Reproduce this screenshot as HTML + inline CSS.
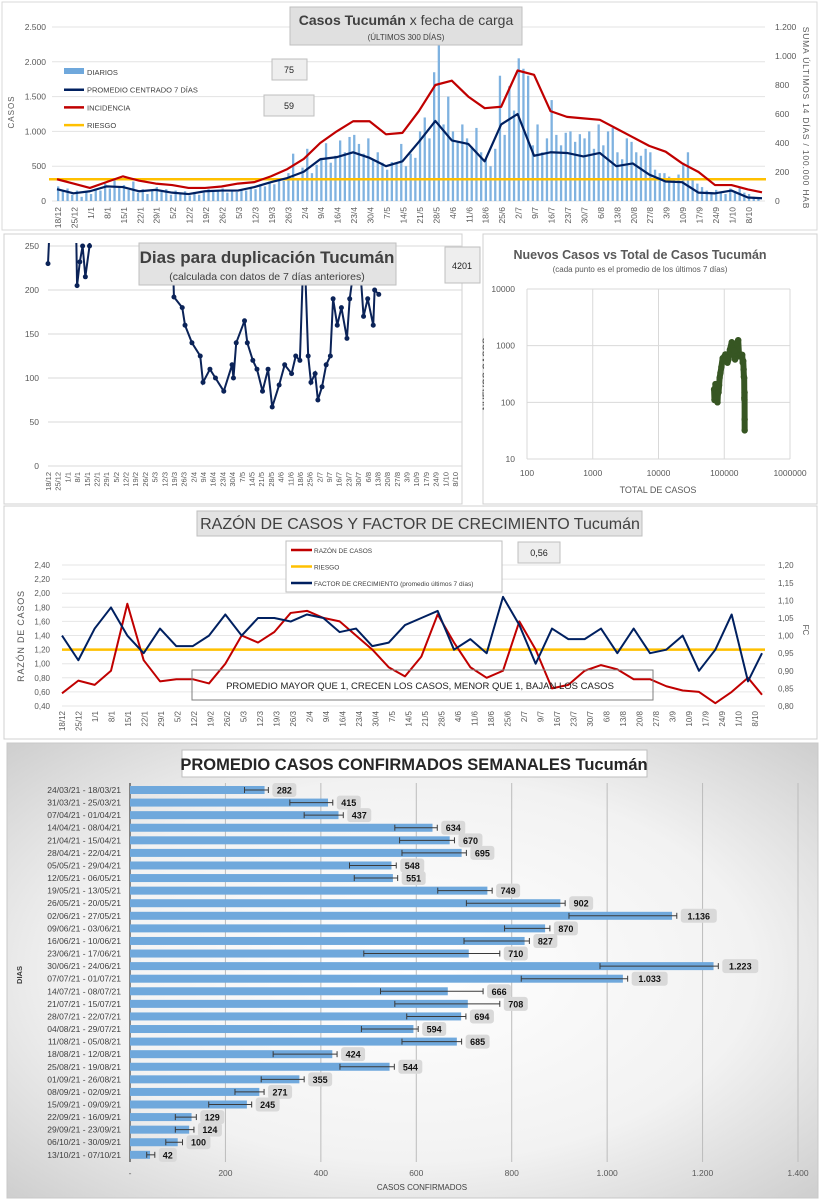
<!DOCTYPE html>
<html><head><meta charset="utf-8">
<style>
html,body{margin:0;padding:0;background:#fff;}
svg{display:block;font-family:"Liberation Sans",sans-serif;}
</style></head>
<body>
<svg id="root" width="820" height="1200" viewBox="0 0 820 1200">
<defs>
<radialGradient id="bg4" cx="50%" cy="50%" r="70%">
<stop offset="0%" stop-color="#ffffff"/><stop offset="60%" stop-color="#f2f2f2"/><stop offset="100%" stop-color="#cfcfcf"/>
</radialGradient>
<clipPath id="clip1"><rect x="45" y="20" width="730" height="185"/></clipPath>
<clipPath id="clip2"><rect x="40" y="243" width="430" height="226"/></clipPath>
</defs>
<rect x="0" y="0" width="820" height="1200" fill="#fff"/>
<g id="p1"></g>
<g id="p2"></g>
<g id="p3"></g>
<g id="p4"></g>
<g id="p5"></g>
</svg>
<script>
const NS="http://www.w3.org/2000/svg";
// ---------- shared data ----------
const dateLabels=["18/12","25/12","1/1","8/1","15/1","22/1","29/1","5/2","12/2","19/2","26/2","5/3","12/3","19/3","26/3","2/4","9/4","16/4","23/4","30/4","7/5","14/5","21/5","28/5","4/6","11/6","18/6","25/6","2/7","9/7","16/7","23/7","30/7","6/8","13/8","20/8","27/8","3/9","10/9","17/9","24/9","1/10","8/10"];
// chart 1
const diarios=[210,140,180,90,150,60,130,100,180,150,250,180,300,190,230,160,280,120,170,100,150,200,130,170,90,150,110,140,80,130,90,120,170,130,160,180,120,160,130,170,150,190,170,240,210,280,240,330,290,400,680,310,480,750,400,520,620,830,550,650,870,700,920,950,820,680,900,600,700,550,450,560,540,820,500,680,620,1000,1200,900,1850,2400,1100,1500,1000,850,1100,900,780,1050,700,600,500,750,1800,950,1650,1300,2050,1900,1800,800,1100,700,900,1450,950,800,980,1000,850,960,900,1000,750,1100,800,1000,1050,700,600,900,850,700,650,750,700,450,400,400,350,300,380,550,700,300,250,200,150,130,160,130,100,180,140,200,120,100,60,40];
const promedio7=[170,110,140,210,200,140,160,120,100,140,150,150,200,270,330,420,600,630,700,620,500,570,850,1150,870,820,570,1100,1250,650,700,690,640,690,500,540,380,280,270,120,110,150,50,40];
const incidencia=[150,120,90,130,170,140,120,110,90,90,100,120,130,170,220,290,400,480,550,550,460,470,620,800,830,720,640,650,900,870,620,580,570,560,500,440,380,340,260,200,110,110,80,60];
const riesgo1=150;
const leftTicks1=["0","500","1.000","1.500","2.000","2.500"];
const rightTicks1=["0","200","400","600","800","1.000","1.200"];
// chart 2
const dupDays=[0,2,20,21,23,25,27,30,31,89,91,97,99,104,110,112,117,121,127,133,134,136,142,144,148,151,155,159,162,167,171,176,179,182,185,188,190,193,195,198,201,204,206,209,212,216,218,224,228,231,235,236,239];
const dupVals=[230,300,300,205,232,250,215,250,300,300,192,180,160,140,125,95,110,100,85,115,100,140,165,140,120,110,85,110,67,92,115,105,125,120,260,125,95,105,75,90,115,125,190,160,180,145,190,260,170,190,160,200,195];
const dupTicks=["0","50","100","150","200","250"];
// chart 3
const totals=[70000,71000,72000,73500,75000,76000,77000,78000,79000,80000,81000,82000,83500,85000,87500,90500,94500,99000,104000,108500,112000,116000,122000,130000,136000,142000,146000,154000,163000,168000,173000,178000,182500,187500,191000,194500,197000,199000,201000,202000,202800,203800,204200,204500];
const nuevos=[170,110,140,210,200,140,160,120,100,140,150,150,200,270,330,420,600,630,700,620,500,570,850,1150,870,820,570,1100,1250,650,700,690,640,690,500,540,380,280,270,120,110,150,50,32];
const scatterXTicks=["100","1000","10000","100000","1000000"];
const scatterYTicks=["10","100","1000","10000"];
// chart 4
const razon=[0.58,0.76,0.70,0.90,1.85,1.05,0.75,0.78,0.78,0.72,1.0,1.4,1.3,1.45,1.72,1.75,1.65,1.6,1.4,1.2,0.95,0.82,1.1,1.7,1.3,0.95,0.8,0.9,1.6,1.2,0.65,0.7,0.9,0.98,0.92,0.78,0.78,0.68,0.62,0.60,0.44,0.60,0.80,0.56];
const factor=[1.0,0.93,1.02,1.08,1.0,0.95,1.02,0.97,0.97,1.0,1.06,1.0,1.05,1.05,1.04,1.06,1.05,1.01,1.02,0.97,0.98,1.03,1.05,1.07,0.96,0.99,0.95,1.11,1.03,0.92,1.02,0.99,0.99,1.02,0.95,1.02,0.95,0.96,1.0,0.90,0.96,1.06,0.87,0.95];
const riesgo4=1.2;
const leftTicks4=["0,40","0,60","0,80","1,00","1,20","1,40","1,60","1,80","2,00","2,20","2,40"];
const rightTicks4=["0,80","0,85","0,90","0,95","1,00","1,05","1,10","1,15","1,20"];
// chart 5
const weeks=["24/03/21 - 18/03/21","31/03/21 - 25/03/21","07/04/21 - 01/04/21","14/04/21 - 08/04/21","21/04/21 - 15/04/21","28/04/21 - 22/04/21","05/05/21 - 29/04/21","12/05/21 - 06/05/21","19/05/21 - 13/05/21","26/05/21 - 20/05/21","02/06/21 - 27/05/21","09/06/21 - 03/06/21","16/06/21 - 10/06/21","23/06/21 - 17/06/21","30/06/21 - 24/06/21","07/07/21 - 01/07/21","14/07/21 - 08/07/21","21/07/21 - 15/07/21","28/07/21 - 22/07/21","04/08/21 - 29/07/21","11/08/21 - 05/08/21","18/08/21 - 12/08/21","25/08/21 - 19/08/21","01/09/21 - 26/08/21","08/09/21 - 02/09/21","15/09/21 - 09/09/21","22/09/21 - 16/09/21","29/09/21 - 23/09/21","06/10/21 - 30/09/21","13/10/21 - 07/10/21"];
const weekVals=[282,415,437,634,670,695,548,551,749,902,1136,870,827,710,1223,1033,666,708,694,594,685,424,544,355,271,245,129,124,100,42];
const weekLabels=["282","415","437","634","670","695","548","551","749","902","1.136","870","827","710","1.223","1.033","666","708","694","594","685","424","544","355","271","245","129","124","100","42"];
const errLow=[240,335,365,555,565,570,460,470,645,705,920,785,700,490,985,820,525,555,580,485,570,300,440,275,220,165,95,95,75,35];
const errHigh=[290,425,447,644,680,705,558,561,759,912,1146,880,837,775,1233,1043,740,775,704,604,695,434,554,365,281,255,139,134,110,52];
const barTicks=["-","200","400","600","800","1.000","1.200","1.400"];

function mk(parent,tag,attrs,txt){const e=document.createElementNS(NS,tag);for(const k in attrs)e.setAttribute(k,attrs[k]);if(txt!==undefined)e.textContent=txt;parent.appendChild(e);return e;}
let e;

// ================= PANEL 1 =================
(function(){
const g=document.getElementById('p1');
e=mk(g,'rect',{x:2,y:2,width:815,height:228,fill:'#fff',stroke:'#d9d9d9'});

const X0=57,X1=762,D=300;const yL=v=>201-v/2500*174;const yR=v=>201-v/1200*174;const xd=d=>X0+d*(X1-X0)/D;
leftTicks1.forEach((t,i)=>{const y=201-i*34.8;
e=mk(g,'line',{x1:X0-5,x2:765,y1:y,y2:y,stroke:'#e3e3e3','stroke-width':1});

e=mk(g,'text',{x:46,y:y+3,'font-size':8.5,fill:'#595959','text-anchor':'end'},t);
});
rightTicks1.forEach((t,i)=>{const y=201-i*29;
e=mk(g,'text',{x:775,y:y+3,'font-size':8.5,fill:'#595959'},t);
});
const cg=mk(g,'g',{'clip-path':'url(#clip1)'});
diarios.forEach((v,i)=>{const x=xd(i*2);
e=mk(cg,'rect',{x:x,y:yL(v),width:2.3,height:201-yL(v),fill:'#7fb2e0'});
});
e=mk(cg,'line',{x1:X0-8,x2:766,y1:yR(riesgo1),y2:yR(riesgo1),stroke:'#ffc000','stroke-width':2.5});

const pts=(arr,f)=>arr.map((v,i)=>xd(Math.min(i*7,300))+','+f(v)).join(' ');
e=mk(cg,'polyline',{points:pts(incidencia,yR),fill:'none',stroke:'#c00000','stroke-width':2.2,'stroke-linejoin':'round'});

e=mk(cg,'polyline',{points:pts(promedio7,yL),fill:'none',stroke:'#002060','stroke-width':2.2,'stroke-linejoin':'round'});

dateLabels.forEach((t,i)=>{const x=58+i*16.45;
e=mk(g,'text',{x:0,y:0,transform:`translate(${x+3},207) rotate(-90)`,'font-size':8.5,fill:'#595959','text-anchor':'end'},t);
});
e=mk(g,'text',{transform:'translate(14,112) rotate(-90)','font-size':8,fill:'#595959','text-anchor':'middle','letter-spacing':'1'},'CASOS');

e=mk(g,'text',{transform:'translate(803,118) rotate(90)','font-size':8.5,fill:'#595959','text-anchor':'middle','letter-spacing':'0.8'},'SUMA  ÚLTIMOS 14 DÍAS / 100.000 HAB');

e=mk(g,'rect',{x:290,y:7,width:232,height:38,fill:'#e0e0e0',stroke:'#bfbfbf'});

e=mk(g,'text',{x:406,y:25,'font-size':14,fill:'#404040','text-anchor':'middle'});

e.innerHTML='<tspan font-weight="bold">Casos Tucumán</tspan> x fecha de carga';
e=mk(g,'text',{x:406,y:40,'font-size':8,fill:'#404040','text-anchor':'middle'},'(ÚLTIMOS 300 DÍAS)');

const leg=[["DIARIOS",'#6fa8dc','bar'],["PROMEDIO CENTRADO 7 DÍAS",'#002060','line'],["INCIDENCIA",'#c00000','line'],["RIESGO",'#ffc000','line']];
leg.forEach((l,i)=>{const y=72+i*17.7;
if(l[2]==='bar'){e=mk(g,'rect',{x:64,y:y-4,width:20,height:6,fill:l[1]});}else{e=mk(g,'line',{x1:64,x2:84,y1:y,y2:y,stroke:l[1],'stroke-width':2.5});}

e=mk(g,'text',{x:87,y:y+3,'font-size':7.5,fill:'#404040'},l[0]);
});
e=mk(g,'rect',{x:272,y:59,width:35,height:21,fill:'#eeeeee',stroke:'#bfbfbf'});

e=mk(g,'text',{x:289,y:73,'font-size':9,fill:'#222','text-anchor':'middle'},'75');

e=mk(g,'rect',{x:264,y:95,width:50,height:21,fill:'#eeeeee',stroke:'#bfbfbf'});

e=mk(g,'text',{x:289,y:109,'font-size':9,fill:'#222','text-anchor':'middle'},'59');

})();

// ================= PANEL 2 =================
(function(){
const g=document.getElementById('p2');
e=mk(g,'rect',{x:4,y:234,width:458,height:270,fill:'#fff',stroke:'#d0d0d0'});

const x=d=>48+d*1.384, y=v=>466-v*0.88;
dupTicks.forEach((t,i)=>{const yy=466-i*44;
e=mk(g,'line',{x1:48,x2:462,y1:yy,y2:yy,stroke:'#d9d9d9'});

e=mk(g,'text',{x:39,y:yy+3,'font-size':8.5,fill:'#595959','text-anchor':'end'},t);
});
dateLabels.forEach((t,i)=>{const xx=48+i*9.69;
e=mk(g,'text',{transform:`translate(${xx+3},472) rotate(-90)`,'font-size':7.5,fill:'#595959','text-anchor':'end'},t);
});
const cg=mk(g,'g',{'clip-path':'url(#clip2)'});
e=mk(cg,'polyline',{points:dupDays.map((d,i)=>x(d)+','+y(dupVals[i])).join(' '),fill:'none',stroke:'#0b2358','stroke-width':2});

dupDays.forEach((d,i)=>{e=mk(cg,'circle',{cx:x(d),cy:y(dupVals[i]),r:2.5,fill:'#0b2358'});
});
e=mk(g,'rect',{x:139,y:243,width:257,height:42,fill:'#e3e3e3',stroke:'#bfbfbf'});

e=mk(g,'text',{x:267,y:263,'font-size':17,'font-weight':'bold',fill:'#404040','text-anchor':'middle'},'Dias para duplicación Tucumán');

e=mk(g,'text',{x:267,y:280,'font-size':10.5,fill:'#404040','text-anchor':'middle'},'(calculada con datos de 7 días anteriores)');

e=mk(g,'rect',{x:445,y:247,width:35,height:36,fill:'#eeeeee',stroke:'#bfbfbf'});

e=mk(g,'text',{x:462,y:269,'font-size':9,fill:'#222','text-anchor':'middle'},'4201');

})();

// ================= PANEL 3 =================
(function(){
const g=document.getElementById('p3');
e=mk(g,'rect',{x:483,y:234,width:334,height:270,fill:'#fff',stroke:'#d0d0d0'});

const X0=527,X1=790,Y0=459,Y1=289;
const x=v=>X0+(Math.log10(v)-2)*(X1-X0)/4, y=v=>Y0-(Math.log10(v)-1)*(Y0-Y1)/3;
scatterXTicks.forEach((t,i)=>{const xx=X0+i*(X1-X0)/4;
e=mk(g,'line',{x1:xx,x2:xx,y1:Y1,y2:Y0,stroke:'#d9d9d9'});

e=mk(g,'text',{x:xx,y:Y0+17,'font-size':8.5,fill:'#595959','text-anchor':'middle'},t);
});
scatterYTicks.forEach((t,i)=>{const yy=Y0-i*(Y0-Y1)/3;
e=mk(g,'line',{x1:X0,x2:X1,y1:yy,y2:yy,stroke:'#d9d9d9'});

e=mk(g,'text',{x:X0-12,y:yy+3,'font-size':8.5,fill:'#595959','text-anchor':'end'},t);
});
e=mk(g,'text',{transform:'translate(489,374) rotate(-90)','font-size':9,fill:'#595959','text-anchor':'middle','font-weight':'bold'},'NUEVOS CASOS');

e=mk(g,'rect',{x:484,y:330,width:6,height:90,fill:'#fff'});

e=mk(g,'text',{x:X0+131,y:493,'font-size':9,fill:'#595959','text-anchor':'middle'},'TOTAL DE CASOS');

e=mk(g,'text',{x:640,y:259,'font-size':12.5,'font-weight':'bold',fill:'#595959','text-anchor':'middle'},'Nuevos Casos vs Total de Casos Tucumán');

e=mk(g,'text',{x:640,y:272,'font-size':8,fill:'#595959','text-anchor':'middle'},'(cada punto es el promedio de los últimos 7 días)');

e=mk(g,'polyline',{points:totals.map((t,i)=>x(t)+','+y(nuevos[i])).join(' '),fill:'none',stroke:'#375623','stroke-width':6,'stroke-linejoin':'round'});

totals.forEach((t,i)=>{e=mk(g,'circle',{cx:x(t),cy:y(nuevos[i]),r:3.2,fill:'#375623'});
});
})();

// ================= PANEL 4 =================
(function(){
const g=document.getElementById('p4');
e=mk(g,'rect',{x:4,y:506,width:813,height:233,fill:'#fff',stroke:'#d0d0d0'});

const X0=62,X1=762;const yL=v=>706-(v-0.4)/0.2*14.1;const yR=v=>706-(v-0.8)/0.05*17.6;const xd=d=>X0+d*(X1-X0)/300;
leftTicks4.forEach((t,i)=>{const yy=706-i*14.1;
e=mk(g,'line',{x1:62,x2:765,y1:yy,y2:yy,stroke:'#e6e6e6'});

e=mk(g,'text',{x:50,y:yy+3,'font-size':8,fill:'#595959','text-anchor':'end'},t);
});
rightTicks4.forEach((t,i)=>{const yy=706-i*17.6;
e=mk(g,'text',{x:778,y:yy+3,'font-size':8,fill:'#595959'},t);
});
dateLabels.forEach((t,i)=>{const xx=62+i*16.5;
e=mk(g,'text',{transform:`translate(${xx+3},711) rotate(-90)`,'font-size':8,fill:'#595959','text-anchor':'end'},t);
});
e=mk(g,'line',{x1:62,x2:765,y1:yL(riesgo4),y2:yL(riesgo4),stroke:'#ffc000','stroke-width':2.5});

const pts=(arr,f)=>arr.map((v,i)=>xd(Math.min(i*7,300))+','+f(v)).join(' ');
e=mk(g,'polyline',{points:pts(razon,yL),fill:'none',stroke:'#c00000','stroke-width':2,'stroke-linejoin':'round'});

e=mk(g,'polyline',{points:pts(factor,yR),fill:'none',stroke:'#002060','stroke-width':2,'stroke-linejoin':'round'});

e=mk(g,'rect',{x:192,y:670,width:461,height:30,fill:'none',stroke:'#7f7f7f'});

e=mk(g,'text',{x:420,y:689,'font-size':9.5,fill:'#222','text-anchor':'middle'},'PROMEDIO MAYOR QUE 1, CRECEN LOS CASOS, MENOR QUE 1, BAJAN LOS CASOS');

e=mk(g,'rect',{x:197,y:511,width:445,height:25,fill:'#e3e3e3',stroke:'#bfbfbf'});

e=mk(g,'text',{x:420,y:529,'font-size':16,fill:'#404040','text-anchor':'middle'},'RAZÓN DE CASOS Y FACTOR DE CRECIMIENTO Tucumán');

e=mk(g,'rect',{x:286,y:541,width:216,height:51,fill:'#fff',stroke:'#bfbfbf'});

[["RAZÓN DE CASOS",'#c00000'],["RIESGO",'#ffc000'],["FACTOR DE CRECIMIENTO (promedio últimos 7 días)",'#002060']].forEach((l,i)=>{const yy=550+i*16.5;
e=mk(g,'line',{x1:291,x2:312,y1:yy,y2:yy,stroke:l[1],'stroke-width':2.5});

e=mk(g,'text',{x:314,y:yy+3,'font-size':6.5,fill:'#404040'},l[0]);
});
e=mk(g,'rect',{x:518,y:542,width:42,height:21,fill:'#eeeeee',stroke:'#bfbfbf'});

e=mk(g,'text',{x:539,y:556,'font-size':9,fill:'#222','text-anchor':'middle'},'0,56');

e=mk(g,'text',{transform:'translate(24,636) rotate(-90)','font-size':9,fill:'#595959','text-anchor':'middle','letter-spacing':'0.8'},'RAZÓN  DE CASOS');

e=mk(g,'text',{transform:'translate(803,630) rotate(90)','font-size':8,fill:'#595959','text-anchor':'middle'},'FC');

})();

// ================= PANEL 5 =================
(function(){
const g=document.getElementById('p5');
e=mk(g,'rect',{x:7,y:743,width:811,height:455,fill:'url(#bg4)',stroke:'#c8c8c8'});

const X0=130,W=668;const x=v=>X0+v/1400*W;const y=i=>790+i*12.58;
barTicks.forEach((t,i)=>{const xx=X0+i*W/7;
if(i>0){e=mk(g,'line',{x1:xx,x2:xx,y1:783,y2:1162,stroke:'#bcbcbc'});
}
e=mk(g,'text',{x:xx,y:1176,'font-size':8.5,fill:'#595959','text-anchor':'middle'},t);
});
e=mk(g,'line',{x1:X0,x2:X0,y1:783,y2:1162,stroke:'#404040','stroke-width':1.2});

weeks.forEach((w,i)=>{const yy=y(i);
e=mk(g,'text',{x:121,y:yy+3,'font-size':8.5,fill:'#404040','text-anchor':'end'},w);

e=mk(g,'rect',{x:X0,y:yy-4,width:x(weekVals[i])-X0,height:8,fill:'#6fa8dc'});

e=mk(g,'line',{x1:x(errLow[i]),x2:x(errHigh[i]),y1:yy,y2:yy,stroke:'#3a3a3a','stroke-width':1});

[errLow[i],errHigh[i]].forEach(v=>{e=mk(g,'line',{x1:x(v),x2:x(v),y1:yy-3,y2:yy+3,stroke:'#3a3a3a','stroke-width':1});
});
const lw=weekLabels[i].length*6+6;const lx=x(Math.max(weekVals[i],errHigh[i]))+4;
e=mk(g,'rect',{x:lx,y:yy-7,width:lw,height:14,rx:3,fill:'#d9d9d9'});

e=mk(g,'text',{x:lx+lw/2,y:yy+3.5,'font-size':9,'font-weight':'bold',fill:'#111','text-anchor':'middle'},weekLabels[i]);
});
e=mk(g,'rect',{x:182,y:750,width:465,height:27,fill:'#fff',stroke:'#bfbfbf'});

e=mk(g,'text',{x:414,y:770,'font-size':16.5,'font-weight':'bold',fill:'#262626','text-anchor':'middle'},'PROMEDIO CASOS CONFIRMADOS SEMANALES Tucumán');

e=mk(g,'text',{x:422,y:1190,'font-size':8,fill:'#404040','text-anchor':'middle'},'CASOS CONFIRMADOS');

e=mk(g,'text',{transform:'translate(22,975) rotate(-90)','font-size':7.5,'font-weight':'bold',fill:'#404040','text-anchor':'middle'},'DIAS');

})();
</script>
</body></html>
